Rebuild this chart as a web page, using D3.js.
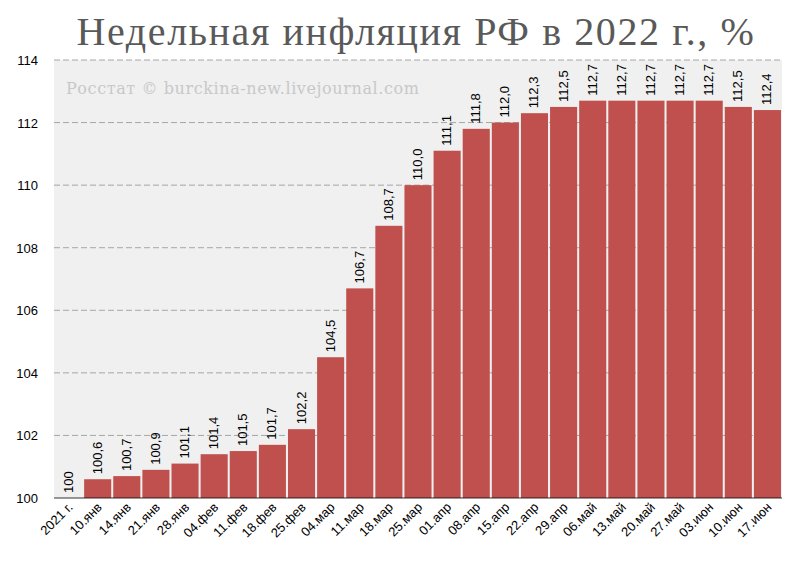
<!DOCTYPE html>
<html><head><meta charset="utf-8">
<script src="https://cdn.jsdelivr.net/npm/d3@7"></script>
<style>body{margin:0;background:#fff}</style>
</head><body>
<svg id="chart" width="800" height="567"></svg>
<script>
// weekly inflation chart

var categories = ['2021 г.','10.янв','14.янв','21.янв','28.янв','04.фев','11.фев','18.фев','25.фев',
	'04.мар','11.мар','18.мар','25.мар','01.апр','08.апр','15.апр','22.апр','29.апр',
	'06.май','13.май','20.май','27.май','03.июн','10.июн','17.июн'];
var values = [100,100.6,100.7,100.9,101.1,101.4,101.5,101.7,102.2,104.5,106.7,108.7,110.0,
	111.1,111.8,112.0,112.3,112.5,112.7,112.7,112.7,112.7,112.7,112.5,112.4];
var yTicks = [100,102,104,106,108,110,112,114];

var pad = {top: 60, right: 18, bottom: 69, left: 54};
var W = 800, H = 567;
var cw = W - pad.left - pad.right, ch = H - pad.top - pad.bottom;

var svg = d3.select('#chart');

svg.append('text').attr('x', 416).attr('y', 45).attr('text-anchor', 'middle')
	.attr('font-family', 'Liberation Serif, serif').attr('font-size', 40).attr('fill', '#595959')
	.attr('letter-spacing', 1.6)
	.text('Недельная инфляция РФ в 2022 г., %');

var g = svg.append('g').attr('transform', 'translate('+pad.left+','+pad.top+')');

g.append('rect').attr('width', cw).attr('height', ch).attr('fill', '#f0f0f0');

var x = d3.scaleBand().domain(categories).range([0, cw]).paddingInner(0.07).paddingOuter(0.035);
var y = d3.scaleLinear().domain([100, 114]).range([ch, 0]);

// gridlines
g.selectAll('line.grid').data(yTicks.slice(1)).enter().append('line')
	.attr('x1', 0).attr('x2', cw)
	.attr('y1', function (d) {return y(d);}).attr('y2', function (d) {return y(d);})
	.attr('stroke', '#a6a6a6').attr('stroke-dasharray', '6,3');

g.append('text').attr('x', 12).attr('y', 34)
	.attr('font-family', 'DejaVu Serif, serif').attr('font-size', 16).attr('fill', '#c8c8c8')
	.attr('letter-spacing', 0.6)
	.text('Росстат © burckina-new.livejournal.com');

g.selectAll('rect.bar').data(values).enter().append('rect')
	.attr('x', function (d, i) {return x(categories[i]);})
	.attr('width', x.bandwidth())
	.attr('y', function (d) {return y(d);})
	.attr('height', function (d) {return ch - y(d);})
	.attr('fill', '#c0504d');

g.selectAll('text.lbl').data(values).enter().append('text')
	.attr('transform', function (d, i) {
		return 'translate('+(x(categories[i])+x.bandwidth()/2+4)+','+(y(d)-5)+') rotate(-90)';})
	.attr('font-family', 'Liberation Sans, Arial, sans-serif').attr('font-size', 13).attr('fill', '#000')
	.text(function (d) {return d === 100 ? '100' : d.toFixed(1).replace('.', ',');});

g.append('line').attr('x1', 0).attr('x2', cw).attr('y1', ch).attr('y2', ch)
	.attr('stroke', '#000').attr('stroke-width', 0.8);

// y axis labels
g.selectAll('text.yt').data(yTicks).enter().append('text')
	.attr('x', -16).attr('y', function (d) {return y(d)+5;}).attr('text-anchor', 'end')
	.attr('font-family', 'Liberation Sans, Arial, sans-serif').attr('font-size', 13)
	.text(function (d) {return d;});

// x axis labels
g.selectAll('text.xt').data(categories).enter().append('text')
	.attr('transform', function (d) {
		return 'translate('+(x(d)+x.bandwidth()/2+5)+','+(ch+10)+') rotate(-45)';})
	.attr('text-anchor', 'end')
	.attr('font-family', 'Liberation Sans, Arial, sans-serif').attr('font-size', 13)
	.text(function (d) {return d;});
</script>
</body></html>
